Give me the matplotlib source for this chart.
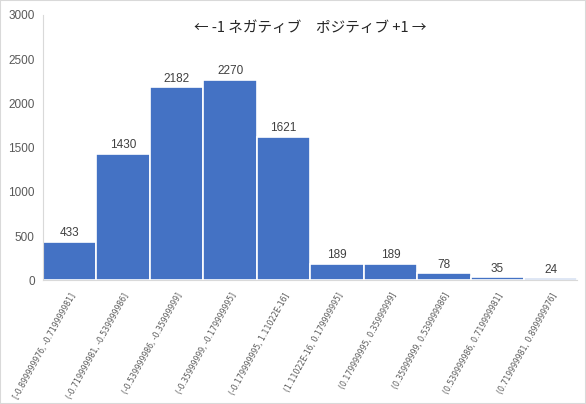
import matplotlib
matplotlib.use('Agg')
from matplotlib import pyplot as plt

plt.rcParams['font.family'] = ['Noto Sans CJK JP', 'DejaVu Sans']

bins = ['[-0.899999976, -0.719999981]', '(-0.719999981, -0.539999986]',
        '(-0.539999986, -0.35999999]', '(-0.35999999, -0.179999995]',
        '(-0.179999995, 1.11022E-16]', '(1.11022E-16, 0.179999995]',
        '(0.179999995, 0.35999999]', '(0.35999999, 0.539999986]',
        '(0.539999986, 0.719999981]', '(0.719999981, 0.899999976]']
counts = [433, 1430, 2182, 2270, 1621, 189, 189, 78, 35, 24]
yticks = [0, 500, 1000, 1500, 2000, 2500, 3000]

fig = plt.figure(figsize=(5.86, 4.04), dpi=100)
fig.patches.append(plt.Rectangle((0, 0), 1, 1, transform=fig.transFigure,
                                 fill=False, edgecolor='#d9d9d9', linewidth=1.5))
ax = fig.add_axes([0.0734, 0.306, 0.912, 0.657])

x = list(range(len(bins)))
bars = ax.bar(x, counts, width=1.0, color='#4472c4', edgecolor='white', linewidth=1.2)
for xi, c in zip(x, counts):
    ax.text(xi, c + 30, str(c), ha='center', va='bottom', fontsize=8.5, color='#404040',
            family=['Liberation Sans', 'DejaVu Sans'])

ax.set_xlim(-0.5, len(bins) - 0.5)
ax.set_ylim(0, 3000)
ax.set_yticks(yticks)
ax.set_yticklabels([str(v) for v in yticks], fontsize=8.5, color='#595959',
                   family=['Liberation Sans', 'DejaVu Sans'])
ax.set_xticks(x)
ax.set_xticklabels(bins, rotation=61, ha='right', rotation_mode='anchor',
                   fontsize=5.6, color='#595959',
                   family=['Liberation Sans Narrow', 'DejaVu Sans'])
ax.tick_params(axis='both', length=0, pad=6)
ax.tick_params(axis='x', pad=8)
for side in ['top', 'right']:
    ax.spines[side].set_visible(False)
for side in ['left', 'bottom']:
    ax.spines[side].set_color('#d9d9d9')

ax.text(0.5, 0.95, '← -1 ネガティブ　ポジティブ +1 →', transform=ax.transAxes,
        ha='center', va='center', fontsize=10.5, color='#262626')

fig.savefig('out.png', dpi=100)
